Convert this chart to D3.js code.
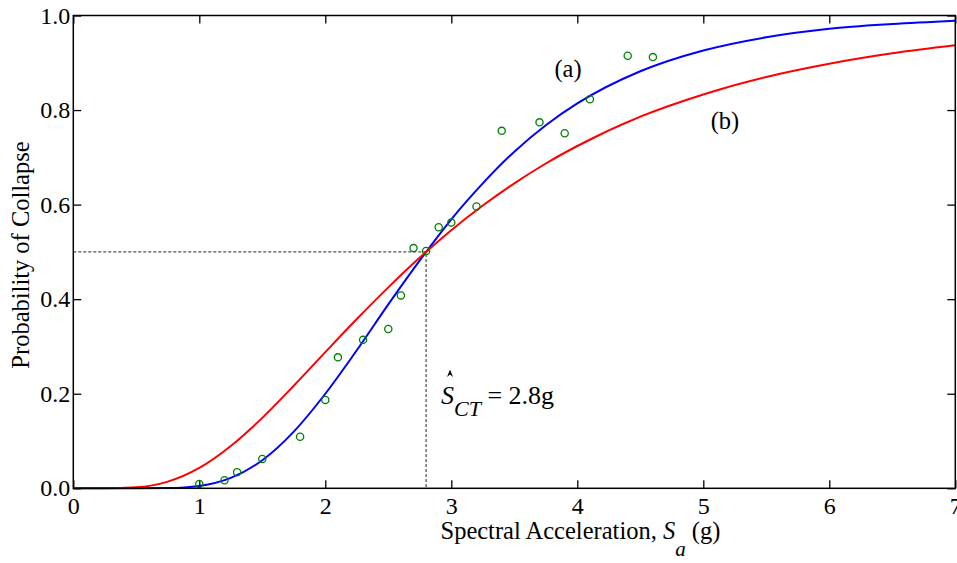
<!DOCTYPE html>
<html>
<head>
<meta charset="utf-8">
<script src="https://cdn.jsdelivr.net/npm/d3@7"></script>
<style>
  html, body { margin: 0; padding: 0; background: #fff; }
  svg { display: block; }
  text { font-family: "Liberation Serif", "Times New Roman", serif; fill: #000; }
</style>
</head>
<body>
<svg id="chart" width="957" height="563"></svg>
<script>
// Fragility curves: probability of collapse vs spectral acceleration
const curveX = [0, 0.25, 0.5, 0.75, 1.0, 1.25, 1.5, 1.75, 2.0, 2.25, 2.5, 2.75, 3.0, 3.25, 3.5, 3.75, 4.0, 4.5, 5.0, 5.5, 6.0, 6.5, 7.0];
const curveA = [0, 0, 0.00001, 0.0005, 0.005, 0.0219, 0.0594, 0.120, 0.200, 0.292, 0.389, 0.482, 0.569, 0.645, 0.712, 0.768, 0.814, 0.882, 0.926, 0.954, 0.972, 0.982, 0.989];
const curveB = [0, 0.00003, 0.002, 0.0141, 0.0431, 0.0895, 0.149, 0.217, 0.288, 0.358, 0.425, 0.488, 0.546, 0.598, 0.645, 0.687, 0.724, 0.786, 0.833, 0.870, 0.898, 0.920, 0.937];

// Observed collapse fractions
const obsSa   = [1.0, 1.2, 1.3, 1.5, 1.8, 2.0, 2.1, 2.3, 2.5, 2.6, 2.7, 2.8, 2.9, 3.0, 3.2, 3.4, 3.7, 3.9, 4.1, 4.4, 4.6];
const obsProb = [0.009, 0.017, 0.034, 0.062, 0.109, 0.187, 0.277, 0.314, 0.337, 0.408, 0.508, 0.502, 0.552, 0.562, 0.596, 0.756, 0.774, 0.751, 0.823, 0.915, 0.912];

const medianSa = 2.8;
const xTicks = [0, 1, 2, 3, 4, 5, 6, 7];
const yTicks = [0, 0.2, 0.4, 0.6, 0.8, 1.0];

const svg = d3.select("#chart");
const m = { left: 73.3, right: 955.3, top: 15.5, bottom: 488.3 };

const x = d3.scaleLinear().domain([0, 7]).range([m.left, m.right]);
const y = d3.scaleLinear().domain([0, 1]).range([m.bottom, m.top]);

const tickLen = 8;
const fs = 24.5;

// Axes with inward ticks on all four sides
const gBottom = svg.append("g").attr("transform", `translate(0,${m.bottom})`)
  .call(d3.axisBottom(x).tickValues(xTicks).tickFormat(d3.format("d"))
    .tickSizeInner(-tickLen).tickSizeOuter(0).tickPadding(9));
const gTop = svg.append("g").attr("transform", `translate(0,${m.top})`)
  .call(d3.axisTop(x).tickValues(xTicks).tickFormat("")
    .tickSizeInner(-tickLen).tickSizeOuter(0));
const gLeft = svg.append("g").attr("transform", `translate(${m.left},0)`)
  .call(d3.axisLeft(y).tickValues(yTicks).tickFormat(d3.format(".1f"))
    .tickSizeInner(-tickLen).tickSizeOuter(0).tickPadding(3));
const gRight = svg.append("g").attr("transform", `translate(${m.right},0)`)
  .call(d3.axisRight(y).tickValues(yTicks).tickFormat("")
    .tickSizeInner(-tickLen).tickSizeOuter(0));

[gBottom, gTop, gLeft, gRight].forEach(g => {
  g.attr("font-family", null);
  g.select(".domain").remove();
  g.selectAll(".tick line").attr("stroke", "#000").attr("stroke-width", 1.3);
  g.selectAll(".tick text").style("font-family", "'Liberation Serif', serif")
    .attr("font-size", 24).attr("fill", "#000");
});

// Dashed guide at the median capacity
svg.append("path")
  .attr("d", `M${x(0)},${y(0.5)}H${x(medianSa)}V${y(0)}`)
  .attr("fill", "none").attr("stroke", "#222").attr("stroke-width", 1)
  .attr("stroke-dasharray", "3,2");

const line = d3.line().x(d => x(d[0])).y(d => y(d[1])).curve(d3.curveMonotoneX);

svg.append("path")
  .datum(curveX.map((v, i) => [v, curveA[i]]))
  .attr("d", line).attr("fill", "none").attr("stroke", "#0000ff").attr("stroke-width", 2);

svg.append("path")
  .datum(curveX.map((v, i) => [v, curveB[i]]))
  .attr("d", line).attr("fill", "none").attr("stroke", "#ff0000").attr("stroke-width", 2);

svg.append("g").selectAll("circle")
  .data(obsSa.map((v, i) => [v, obsProb[i]]))
  .join("circle")
  .attr("cx", d => x(d[0])).attr("cy", d => y(d[1])).attr("r", 3.6)
  .attr("fill", "none").attr("stroke", "#008000").attr("stroke-width", 1.3);

// Frame
svg.append("rect")
  .attr("x", m.left).attr("y", m.top)
  .attr("width", m.right - m.left).attr("height", m.bottom - m.top)
  .attr("fill", "none").attr("stroke", "#000").attr("stroke-width", 1.5);

// Curve labels
svg.append("text").attr("x", 568).attr("y", 77).attr("text-anchor", "middle")
  .attr("font-size", fs).text("(a)");
svg.append("text").attr("x", 725).attr("y", 129).attr("text-anchor", "middle")
  .attr("font-size", fs).text("(b)");

// Median annotation: S-hat, subscript CT
const ann = svg.append("text").attr("x", 441).attr("y", 404).attr("font-size", 26);
ann.append("tspan").attr("font-style", "italic").text("S");
ann.append("tspan").attr("font-style", "italic").attr("font-size", 22).attr("dy", 12).text("CT");
ann.append("tspan").attr("dy", -12).text(" = 2.8g");
svg.append("path")
  .attr("d", "M447,377 L450,369.5 L453,377 L450,374.5 Z")
  .attr("fill", "#000");

// Axis titles
const xl = svg.append("text").attr("x", 440.5).attr("y", 539).attr("font-size", fs);
xl.append("tspan").text("Spectral Acceleration, ");
xl.append("tspan").attr("font-style", "italic").text("S");
xl.append("tspan").attr("font-style", "italic").attr("font-size", 21).attr("dy", 17).text("a");
xl.append("tspan").attr("dy", -17).text(" (g)");

svg.append("text")
  .attr("transform", `translate(29,255) rotate(-90)`)
  .attr("text-anchor", "middle").attr("font-size", fs)
  .text("Probability of Collapse");
</script>
</body>
</html>
